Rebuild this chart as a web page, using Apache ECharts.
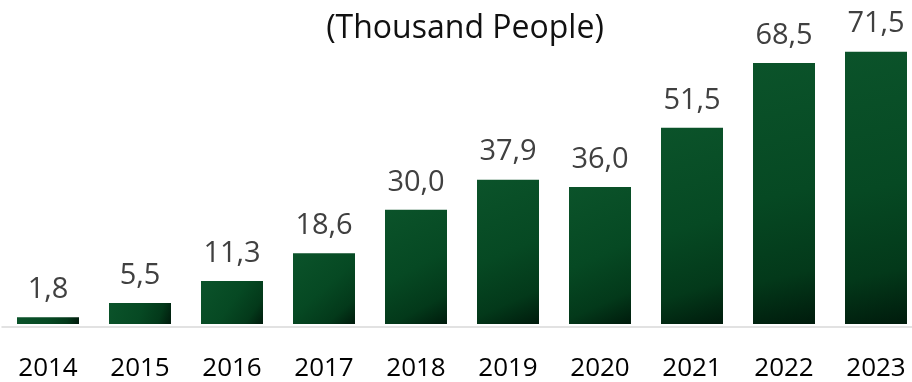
<!DOCTYPE html>
<html>
<head>
<meta charset="utf-8">
<script src="https://cdn.jsdelivr.net/npm/echarts@6/dist/echarts.min.js"></script>
<style>
  html, body { margin: 0; padding: 0; background: #fff; }
  #chart { width: 912px; height: 382px; }
</style>
</head>
<body>
<div id="chart"></div>
<script>
// Yearly figures, thousand people
const years = ['2014', '2015', '2016', '2017', '2018', '2019', '2020', '2021', '2022', '2023'];
const people = [1.8, 5.5, 11.3, 18.6, 30.0, 37.9, 36.0, 51.5, 68.5, 71.5];
const unitTitle = '(Thousand People)';

const fontFamily = '"Open Sans", "Noto Sans", sans-serif';
const chart = echarts.init(document.getElementById('chart'));

chart.setOption({
  animation: false,
  title: {
    text: unitTitle,
    left: 460,
    top: 8,
    textAlign: 'center',
    textStyle: { fontFamily, fontSize: 32, fontWeight: 'normal', color: '#111' }
  },
  // grid 0 carries the bars (first and last category on the edges),
  // grid 1 only draws the full-width baseline
  grid: [
    { left: 48, right: 36, top: 19.3, bottom: 55 },
    { left: 2, right: 0, top: 19.3, bottom: 55 }
  ],
  xAxis: [
    {
      type: 'category',
      gridIndex: 0,
      data: years,
      boundaryGap: false,
      axisLine: { show: false },
      axisTick: { show: false },
      axisLabel: { fontFamily, fontSize: 26, color: '#000', margin: 32 }
    },
    {
      type: 'category',
      gridIndex: 1,
      data: years,
      axisLine: { lineStyle: { color: '#d9d9d9', width: 1.5 } },
      axisTick: { show: false },
      axisLabel: { show: false }
    }
  ],
  yAxis: [
    { type: 'value', gridIndex: 0, min: 0, max: 80, show: false, splitLine: { show: false } },
    { type: 'value', gridIndex: 1, min: 0, max: 80, show: false, splitLine: { show: false } }
  ],
  series: [{
    type: 'bar',
    xAxisIndex: 0,
    yAxisIndex: 0,
    data: people,
    barWidth: 62,
    z: 3,
    itemStyle: {
      color: new echarts.graphic.LinearGradient(0, 0, 1, 1, [
        { offset: 0, color: '#0b532a' },
        { offset: 0.5, color: '#064923' },
        { offset: 0.8, color: '#03391a' },
        { offset: 1, color: '#001b0c' }
      ])
    },
    label: {
      show: true,
      position: 'top',
      distance: 13,
      fontFamily,
      fontSize: 29,
      color: '#404040',
      formatter: p => p.value.toFixed(1).replace('.', ',')
    }
  }]
});
</script>
</body>
</html>
